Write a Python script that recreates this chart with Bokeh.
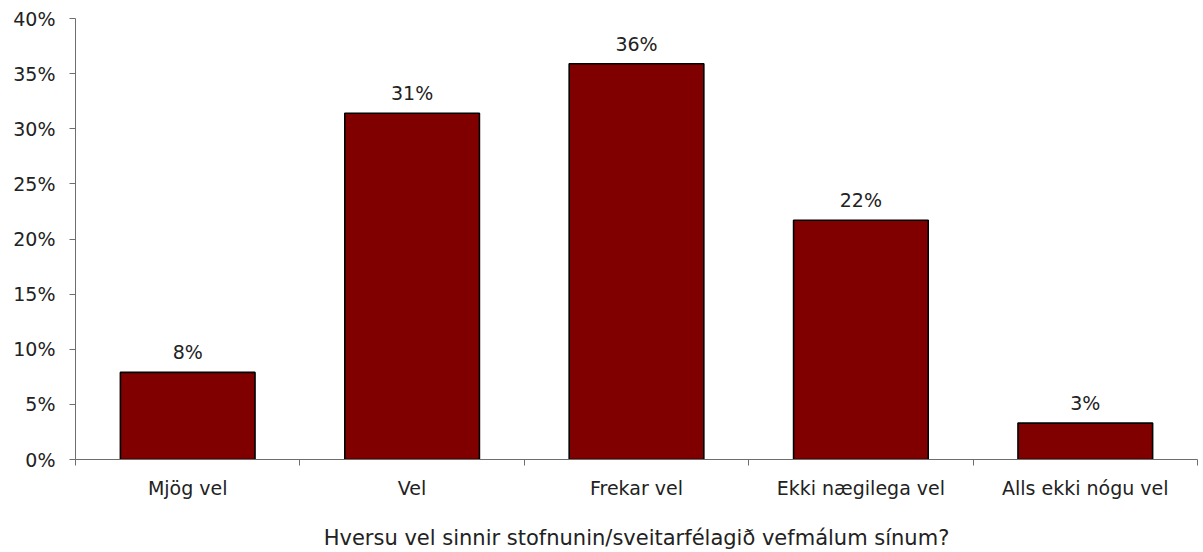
from bokeh.plotting import figure
from bokeh.models import ColumnDataSource, FixedTicker, Range1d, NumeralTickFormatter
from bokeh.embed import file_html
from bokeh.resources import INLINE
from bokeh.core.properties import value

categories = ["Mjög vel", "Vel", "Frekar vel", "Ekki nægilega vel", "Alls ekki nógu vel"]
percent = [7.9, 31.4, 35.9, 21.7, 3.3]
bar_labels = ["8%", "31%", "36%", "22%", "3%"]
y_ticks = [0, 5, 10, 15, 20, 25, 30, 35, 40]
x_title = "Hversu vel sinnir stofnunin/sveitarfélagið vefmálum sínum?"

FONT = "DejaVu Sans"
AXIS_COL = "#6e6e6e"
TXT = "#222222"

xs = [i + 0.5 for i in range(len(categories))]
src = ColumnDataSource(dict(x=xs, top=percent, lab=bar_labels))

p = figure(width=1203, height=552, output_backend="svg", toolbar_location=None,
           x_range=Range1d(0, len(categories)), y_range=Range1d(0, 40),
           min_border_left=75, min_border_right=6, min_border_top=18, min_border_bottom=91)
p.outline_line_color = None
p.xgrid.grid_line_color = None
p.ygrid.grid_line_color = None

p.vbar(x="x", top="top", width=0.6, bottom=0, source=src,
       fill_color="#800000", line_color="black", line_width=1.6)
p.text(x="x", y="top", text="lab", source=src, text_align="center",
       text_baseline="alphabetic", y_offset=-20, text_font=value(FONT),
       text_font_size="19px", text_color=TXT)

# x axis
xa = p.xaxis[0]
xa.ticker = FixedTicker(ticks=xs, minor_ticks=list(range(len(categories) + 1)))
xa.major_label_overrides = {x: c for x, c in zip(xs, categories)}
xa.major_tick_line_color = None
xa.major_tick_out = 0
xa.major_tick_in = 0
xa.minor_tick_line_color = AXIS_COL
xa.minor_tick_out = 6
xa.minor_tick_in = 0
xa.axis_line_color = AXIS_COL
xa.major_label_standoff = 11
xa.major_label_text_font = FONT
xa.major_label_text_font_size = "19px"
xa.major_label_text_color = TXT
xa.axis_label = x_title
xa.axis_label_text_font = FONT
xa.axis_label_text_font_size = "21px"
xa.axis_label_text_font_style = "normal"
xa.axis_label_text_color = TXT
xa.axis_label_standoff = 24

# y axis
ya = p.yaxis[0]
ya.ticker = FixedTicker(ticks=y_ticks, minor_ticks=[])
ya.formatter = NumeralTickFormatter(format="0")
ya.major_label_overrides = {t: f"{t}%" for t in y_ticks}
ya.axis_line_color = AXIS_COL
ya.major_tick_line_color = AXIS_COL
ya.major_tick_out = 6
ya.major_tick_in = 0
ya.minor_tick_line_color = None
ya.major_label_standoff = 14
ya.major_label_text_font = FONT
ya.major_label_text_font_size = "19px"
ya.major_label_text_color = TXT

open("out.html", "w").write(file_html(p, INLINE))
